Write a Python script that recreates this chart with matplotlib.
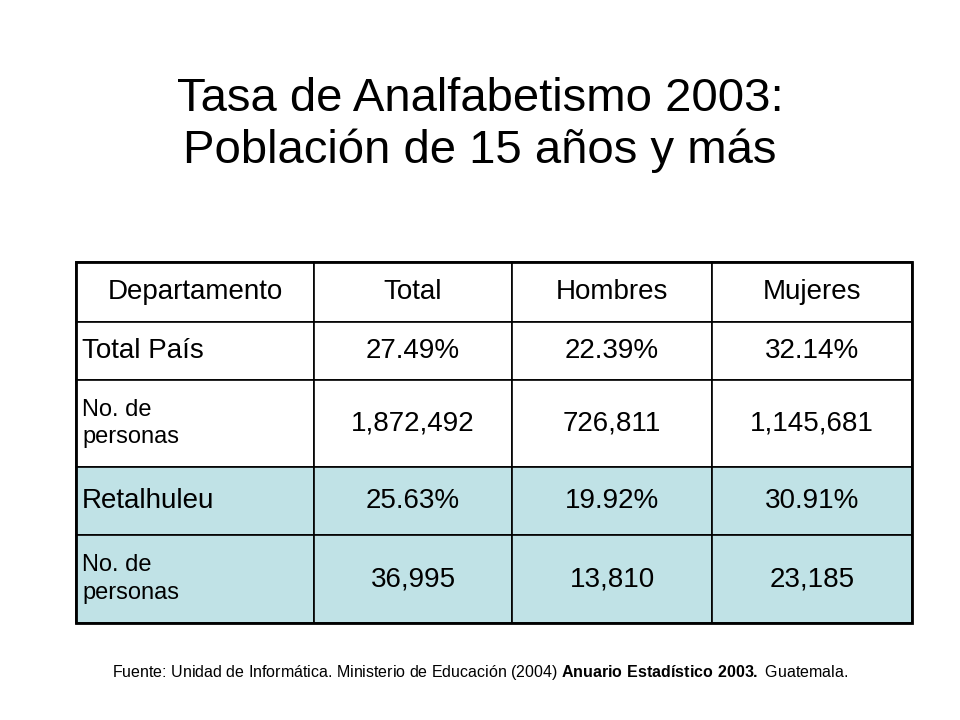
import matplotlib
matplotlib.use("Agg")
from matplotlib import pyplot as plt
from matplotlib.patches import Rectangle

plt.rcParams["font.family"] = "Liberation Sans"
plt.rcParams["mathtext.fontset"] = "custom"
plt.rcParams["mathtext.bf"] = "Liberation Sans:bold"
plt.rcParams["mathtext.rm"] = "Liberation Sans"

title = "Tasa de Analfabetismo 2003:\nPoblación de 15 años y más"
headers = ["Departamento", "Total", "Hombres", "Mujeres"]
row_labels = ["Total País", "No. de\npersonas", "Retalhuleu", "No. de\npersonas"]
total = ["27.49%", "1,872,492", "25.63%", "36,995"]
hombres = ["22.39%", "726,811", "19.92%", "13,810"]
mujeres = ["32.14%", "1,145,681", "30.91%", "23,185"]
highlight = [False, False, True, True]

col_x = [76, 314, 512, 712, 912]
row_y = [262, 322, 380, 467, 535, 623]

fig = plt.figure(figsize=(9.6, 7.2), dpi=100)
ax = fig.add_axes([0, 0, 1, 1])
ax.set_xlim(0, 960)
ax.set_ylim(720, 0)
ax.axis("off")

ax.text(480, 125, title, ha="center", va="center", fontsize=34, linespacing=1.2)

rows = [headers] + [[row_labels[i], total[i], hombres[i], mujeres[i]] for i in range(4)]
fills = [False] + highlight
for r, cells in enumerate(rows):
    y0, y1 = row_y[r], row_y[r+1]
    for c, txt in enumerate(cells):
        x0, x1 = col_x[c], col_x[c+1]
        ax.add_patch(Rectangle((x0, y0), x1-x0, y1-y0, facecolor="#c0e2e6" if fills[r] else "white",
                               edgecolor="black", lw=1.2))
        if c == 0 and r > 0:
            ax.text(x0+6, (y0+y1)/2, txt, ha="left", va="center", fontsize=17 if "\n" in txt else 20,
                    linespacing=1.3)
        else:
            ax.text((x0+x1)/2, (y0+y1)/2, txt, ha="center", va="center", fontsize=20)
ax.add_patch(Rectangle((col_x[0], row_y[0]), col_x[-1]-col_x[0], row_y[-1]-row_y[0],
                       fill=False, edgecolor="black", lw=2))

ax.text(480, 672, "Fuente: Unidad de Informática. Ministerio de Educación (2004) $\\bf{Anuario\\ Estadístico\\ 2003.}$ Guatemala.",
        ha="center", va="center", fontsize=11.5)

fig.savefig("out.png")
